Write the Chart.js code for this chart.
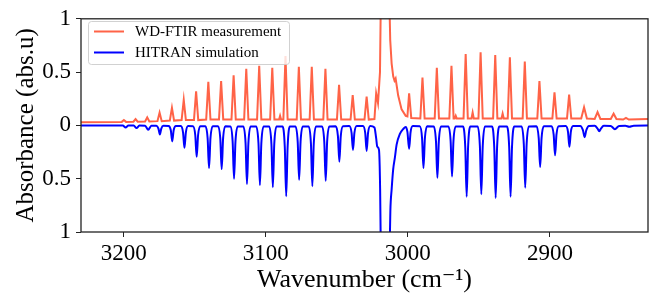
<!DOCTYPE html>
<html>
<head>
<meta charset="utf-8">
<script src="https://cdn.jsdelivr.net/npm/chart.js@4.4.1/dist/chart.umd.min.js"></script>
<style>
  html, body { margin: 0; padding: 0; background: #fff; }
  #wrap { width: 654px; height: 296px; position: relative; }
</style>
</head>
<body>
<div id="wrap"><canvas id="c" width="654" height="296"></canvas></div>
<script>
// ---- data ----
const seriesLabels = ['WD-FTIR measurement', 'HITRAN simulation'];
const xTickValues = [3200, 3100, 3000, 2900];
const yTickValues = [-1, -0.5, 0, 0.5, 1];
const yTickLabels = ['1', '0.5', '0', '0.5', '1'];
const xTitle = 'Wavenumber (cm\u207B\u00B9)';
const yTitle = 'Absorbance (abs.u)';

// WD-FTIR measurement: [wavenumber, absorbance]
const measurement = [
  [3230,0.03],
  [3201.3,0.033],[3199.8,0.05],[3198.3,0.033],
  [3193.1,0.035],[3191.6,0.06],[3190.1,0.035],
  [3184.9,0.037],[3183.4,0.075],[3181.9,0.037],
  [3176.2,0.04],[3174.7,0.12],[3173.2,0.04],
  [3167.5,0.045],[3166.0,0.165],[3164.5,0.045],
  [3159.2,0.05],[3157.7,0.24],[3156.2,0.05],
  [3150.5,0.05],[3149.0,0.32],[3147.5,0.05],
  [3141.9,0.055],[3140.4,0.41],[3138.9,0.055],
  [3132.9,0.055],[3131.4,0.415],[3129.9,0.055],
  [3124.1,0.055],[3122.6,0.47],[3121.1,0.055],
  [3115.2,0.055],[3113.7,0.53],[3112.2,0.055],
  [3106.1,0.055],[3104.6,0.56],[3103.1,0.055],
  [3096.9,0.055],[3095.4,0.54],[3093.9,0.055],
  [3090.6,0.055],[3089.9,0.09],[3089.2,0.055],
  [3087.6,0.055],[3086.1,0.65],[3084.6,0.055],
  [3078.2,0.055],[3076.7,0.55],[3075.2,0.055],
  [3069.1,0.055],[3067.6,0.55],[3066.1,0.055],
  [3059.5,0.055],[3058.0,0.53],[3056.5,0.055],
  [3049.9,0.055],[3048.4,0.38],[3046.9,0.055],
  [3040.3,0.055],[3038.8,0.285],[3037.3,0.055],
  [3030.5,0.055],[3029.0,0.27],[3027.5,0.055],
  [3023.5,0.06],[3022.3,0.30],[3021.0,0.21],[3019.6,0.5],[3018.9,1.3],[3016.0,2.0],
  [3013.2,1.3],[3012.4,0.8],[3011.4,0.58],[3010.3,0.46],[3009.4,0.42],[3008.6,0.44],
  [3006.8,0.28],[3004.4,0.15],[3001.5,0.09],
  [3000.3,0.085],[2999.1,0.30],[2997.6,0.07],
  [2991.2,0.065],[2989.7,0.45],[2988.2,0.065],
  [2981.1,0.065],[2979.6,0.54],[2978.1,0.065],
  [2970.8,0.065],[2969.3,0.56],[2967.8,0.065],
  [2967.0,0.065],[2966.3,0.09],[2965.6,0.065],
  [2960.8,0.065],[2959.3,0.67],[2957.8,0.065],
  [2955.2,0.065],[2954.4,0.12],[2953.6,0.065],
  [2950.3,0.065],[2948.8,0.685],[2947.3,0.065],
  [2940.0,0.065],[2938.5,0.66],[2937.0,0.065],
  [2934.1,0.065],[2933.3,0.11],[2932.5,0.065],
  [2929.7,0.065],[2928.2,0.64],[2926.7,0.065],
  [2919.2,0.065],[2917.7,0.60],[2916.2,0.065],
  [2908.9,0.065],[2907.4,0.415],[2905.9,0.065],
  [2898.3,0.065],[2896.8,0.31],[2895.3,0.065],
  [2888.0,0.065],[2886.5,0.29],[2885.0,0.065],
  [2878.0,0.065],[2876.0,0.17],[2874.0,0.065],
  [2868.5,0.06],[2866.5,0.125],[2864.5,0.06],
  [2857.2,0.06],[2855.2,0.11],[2853.2,0.06],
  [2848.5,0.055],[2846.5,0.07],[2844.5,0.055],
  [2831,0.06]
];

// HITRAN simulation: [wavenumber, absorbance] (plotted downward)
const simulation = [
  [3230,0],
  [3200.6,-0.002],[3198.6,-0.02],[3196.6,-0.002],
  [3192.9,-0.002],[3190.9,-0.025],[3188.9,-0.002],
  [3184.9,-0.003],[3182.7,-0.04],[3180.5,-0.003],
  [3177.0,-0.004],[3175.5,-0.03],[3174.5,-0.085],[3173.5,-0.03],[3172.0,-0.004],
  [3168.4,-0.005],[3166.8,-0.045],[3165.8,-0.15],[3164.8,-0.045],[3163.2,-0.005],
  [3159.8,-0.006],[3158.2,-0.065],[3157.2,-0.21],[3156.2,-0.065],[3154.6,-0.006],
  [3151.2,-0.007],[3149.6,-0.09],[3148.6,-0.295],[3147.6,-0.09],[3146.0,-0.007],
  [3142.5,-0.008],[3140.9,-0.12],[3139.9,-0.40],[3138.9,-0.12],[3137.3,-0.008],
  [3133.6,-0.008],[3132.0,-0.12],[3131.0,-0.41],[3130.0,-0.12],[3128.4,-0.008],
  [3124.9,-0.01],[3123.3,-0.15],[3122.3,-0.50],[3121.3,-0.15],[3119.7,-0.01],
  [3115.8,-0.01],[3114.2,-0.165],[3113.2,-0.55],[3112.2,-0.165],[3110.6,-0.01],
  [3106.7,-0.01],[3105.1,-0.17],[3104.1,-0.56],[3103.1,-0.17],[3101.5,-0.01],
  [3097.6,-0.01],[3096.0,-0.175],[3095.0,-0.58],[3094.0,-0.175],[3092.4,-0.01],
  [3088.2,-0.01],[3086.6,-0.2],[3085.6,-0.665],[3084.6,-0.2],[3083.0,-0.01],
  [3079.1,-0.01],[3077.5,-0.155],[3076.5,-0.51],[3075.5,-0.155],[3073.9,-0.01],
  [3069.8,-0.01],[3068.2,-0.17],[3067.2,-0.57],[3066.2,-0.17],[3064.6,-0.01],
  [3060.4,-0.01],[3058.8,-0.155],[3057.8,-0.52],[3056.8,-0.155],[3055.2,-0.01],
  [3050.8,-0.008],[3049.2,-0.1],[3048.2,-0.34],[3047.2,-0.1],[3045.6,-0.008],
  [3041.2,-0.006],[3039.6,-0.07],[3038.6,-0.23],[3037.6,-0.07],[3036.0,-0.006],
  [3031.6,-0.006],[3030.0,-0.07],[3029.0,-0.24],[3028.0,-0.07],[3026.4,-0.006],
  [3023.5,-0.02],[3022.3,-0.12],[3021.5,-0.2],[3020.3,-0.23],[3019.5,-0.6],[3018.9,-1.3],
  [3016.0,-2.0],[3013.0,-1.3],[3012.3,-0.8],[3011.4,-0.6],[3010.3,-0.41],[3009.1,-0.30],
  [3007.9,-0.18],[3005.6,-0.08],[3003.3,-0.035],[3001.5,-0.015],
  [3000.3,-0.06],[2999.1,-0.22],[2998.1,-0.065],[2996.5,-0.006],
  [2991.6,-0.008],[2990.0,-0.12],[2989.0,-0.40],[2988.0,-0.12],[2986.4,-0.008],
  [2981.8,-0.01],[2980.2,-0.15],[2979.2,-0.49],[2978.2,-0.15],[2976.6,-0.01],
  [2971.5,-0.01],[2969.9,-0.145],[2968.9,-0.48],[2967.9,-0.145],[2966.3,-0.01],
  [2961.2,-0.01],[2959.6,-0.2],[2958.6,-0.67],[2957.6,-0.2],[2956.0,-0.01],
  [2950.9,-0.01],[2949.3,-0.195],[2948.3,-0.645],[2947.3,-0.195],[2945.7,-0.01],
  [2940.8,-0.01],[2939.2,-0.205],[2938.2,-0.68],[2937.2,-0.205],[2935.6,-0.01],
  [2930.3,-0.01],[2928.7,-0.2],[2927.7,-0.67],[2926.7,-0.2],[2925.1,-0.01],
  [2920.0,-0.01],[2918.4,-0.175],[2917.4,-0.585],[2916.4,-0.175],[2914.8,-0.01],
  [2909.5,-0.008],[2907.9,-0.12],[2906.9,-0.39],[2905.9,-0.12],[2904.3,-0.008],
  [2899.0,-0.007],[2897.4,-0.085],[2896.4,-0.28],[2895.4,-0.085],[2893.8,-0.007],
  [2888.9,-0.006],[2887.3,-0.06],[2886.3,-0.20],[2885.3,-0.06],[2883.7,-0.006],
  [2878.6,-0.005],[2876.8,-0.045],[2875.6,-0.11],[2874.4,-0.045],[2872.6,-0.005],
  [2868.5,-0.004],[2866.5,-0.03],[2865.3,-0.055],[2864.1,-0.03],[2862.1,-0.004],
  [2857.3,-0.005],[2854.3,-0.035],[2851.3,-0.005],
  [2847.0,-0.003],[2844.2,-0.012],[2841.0,-0.003],
  [2831,-0.002]
];

const seriesColors = ['#ff6347', '#0000ff'];

// ---- chart ----
Chart.defaults.font.family = "'Liberation Serif', 'DejaVu Serif', serif";
Chart.defaults.color = '#000';

const toXY = arr => arr.map(p => ({ x: p[0], y: p[1] }));

const framePlugin = {
  id: 'frameAndLegend',
  afterDatasetsDraw(chart) {
    const { ctx, chartArea: a } = chart;
    ctx.save();
    // legend box
    const bx = 88.5, by = 21.5, bw = 201, bh = 43, r = 3;
    ctx.beginPath();
    ctx.moveTo(bx + r, by);
    ctx.lineTo(bx + bw - r, by);
    ctx.arcTo(bx + bw, by, bx + bw, by + r, r);
    ctx.lineTo(bx + bw, by + bh - r);
    ctx.arcTo(bx + bw, by + bh, bx + bw - r, by + bh, r);
    ctx.lineTo(bx + r, by + bh);
    ctx.arcTo(bx, by + bh, bx, by + bh - r, r);
    ctx.lineTo(bx, by + r);
    ctx.arcTo(bx, by, bx + r, by, r);
    ctx.closePath();
    ctx.fillStyle = 'rgba(255,255,255,0.8)';
    ctx.fill();
    ctx.strokeStyle = 'rgba(204,204,204,0.9)';
    ctx.lineWidth = 1;
    ctx.stroke();
    const rowsY = [31.5, 52.5];
    ctx.font = "15px 'Liberation Serif', serif";
    ctx.textBaseline = 'middle';
    ctx.textAlign = 'left';
    seriesLabels.forEach((lab, i) => {
      ctx.strokeStyle = seriesColors[i];
      ctx.lineWidth = 2;
      ctx.beginPath();
      ctx.moveTo(94, rowsY[i]);
      ctx.lineTo(124, rowsY[i]);
      ctx.stroke();
      ctx.fillStyle = '#000';
      ctx.fillText(lab, 135, rowsY[i] + 1);
    });
    // frame
    ctx.strokeStyle = '#222';
    ctx.lineWidth = 1.3;
    ctx.strokeRect(a.left, a.top, a.right - a.left, a.bottom - a.top);
    ctx.restore();
  }
};

new Chart(document.getElementById('c'), {
  type: 'line',
  data: {
    datasets: [
      {
        label: seriesLabels[0],
        data: toXY(measurement),
        borderColor: seriesColors[0],
        backgroundColor: seriesColors[0],
        borderWidth: 2,
        pointRadius: 0,
        tension: 0,
        fill: false
      },
      {
        label: seriesLabels[1],
        data: toXY(simulation),
        borderColor: seriesColors[1],
        backgroundColor: seriesColors[1],
        borderWidth: 2,
        pointRadius: 0,
        cubicInterpolationMode: 'monotone',
        fill: false
      }
    ]
  },
  options: {
    responsive: false,
    animation: false,
    events: [],
    layout: { padding: { top: 14, right: 6, left: 0, bottom: 0 } },
    plugins: {
      legend: { display: false },
      tooltip: { enabled: false },
      title: { display: false }
    },
    scales: {
      x: {
        type: 'linear',
        reverse: true,
        min: 2831,
        max: 3230,
        afterBuildTicks: s => { s.ticks = xTickValues.map(v => ({ value: v })); },
        afterFit: s => { s.height = 64; },
        border: { display: false },
        grid: { drawOnChartArea: false, drawTicks: true, tickLength: 5, color: '#222', lineWidth: 1 },
        ticks: {
          font: { size: 23 },
          padding: 3,
          maxRotation: 0,
          callback: v => String(v)
        },
        title: {
          display: true,
          text: xTitle,
          font: { size: 26 },
          padding: { top: 0, bottom: 0 }
        }
      },
      y: {
        type: 'linear',
        min: -1,
        max: 1,
        afterBuildTicks: s => { s.ticks = yTickValues.map(v => ({ value: v })); },
        afterFit: s => { s.width = 81; },
        border: { display: false },
        grid: { drawOnChartArea: false, drawTicks: true, tickLength: 5, color: '#222', lineWidth: 1 },
        ticks: {
          font: { size: 23 },
          padding: 5,
          callback: (v) => yTickLabels[yTickValues.indexOf(v)]
        },
        title: {
          display: true,
          text: yTitle,
          font: { size: 25 },
          padding: { top: 11, bottom: 0 }
        }
      }
    }
  },
  plugins: [framePlugin]
});
</script>
</body>
</html>
